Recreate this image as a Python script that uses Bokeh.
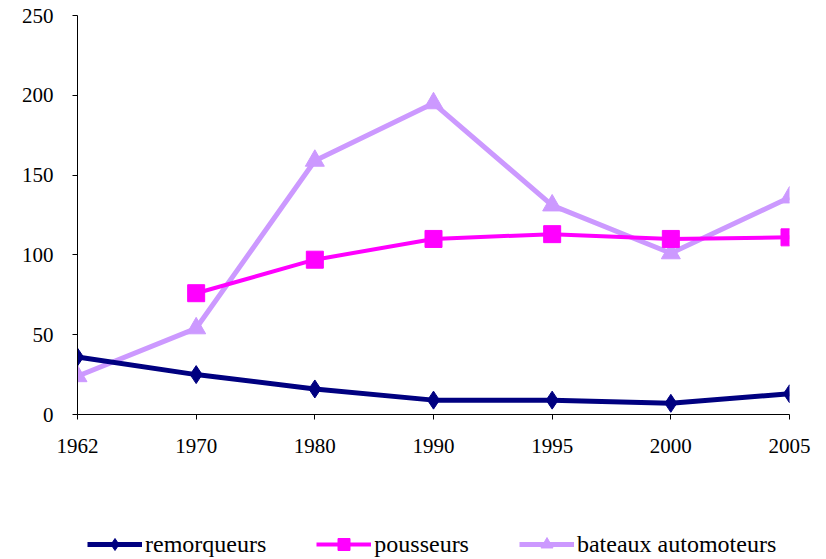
import numpy as np
from bokeh.plotting import figure
from bokeh.layouts import column
from bokeh.models import Range1d, FixedTicker, Legend, LegendItem
from bokeh.embed import file_html
from bokeh.resources import INLINE

years = ["1962", "1970", "1980", "1990", "1995", "2000", "2005"]
remorqueurs = [36, 25, 16, 9, 9, 7, 13]
pousseurs = [None, 76, 97, 110, 113, 110, 111]
bateaux_automoteurs = [24, 54, 159, 195, 131, 101, 136]
y_ticks = [0, 50, 100, 150, 200, 250]
series_names = ["remorqueurs", "pousseurs", "bateaux automoteurs"]

FONT = "Liberation Serif"

x = list(range(len(years)))
def arr(vals):
    return np.array([np.nan if v is None else v for v in vals], dtype=float)

p = figure(width=826, height=520, output_backend="svg", toolbar_location=None,
           x_range=Range1d(0, len(years) - 1), y_range=Range1d(0, 250),
           min_border_left=77, min_border_right=37, min_border_top=15,
           min_border_bottom=106)
p.outline_line_color = None
p.xgrid.visible = False
p.ygrid.visible = False
p.background_fill_color = "white"

for ax in (p.xaxis[0], p.yaxis[0]):
    ax.axis_line_color = "black"
    ax.axis_line_width = 1
    ax.major_tick_line_color = "black"
    ax.major_tick_in = 0
    ax.major_tick_out = 5
    ax.minor_tick_line_color = None
    ax.major_label_text_font = FONT
    ax.major_label_text_font_size = "21px"
    ax.major_label_text_color = "black"
    ax.major_label_standoff = 19

p.xaxis.ticker = FixedTicker(ticks=x)
p.xaxis.major_label_overrides = {i: y for i, y in enumerate(years)}
p.yaxis.ticker = FixedTicker(ticks=y_ticks)

c1, c2, c3 = "#000080", "#FF00FF", "#CC99FF"
styles = [
    dict(color=c1, lw=5, marker="diamond", size=18),
    dict(color=c2, lw=4, marker="square", size=17),
    dict(color=c3, lw=5, marker="triangle", size=19),
]
series = [remorqueurs, pousseurs, bateaux_automoteurs]

for vals, st in reversed(list(zip(series, styles))):
    p.line(x, arr(vals), line_color=st["color"], line_width=st["lw"])
    p.scatter(x, arr(vals), marker=st["marker"], size=st["size"],
              fill_color=st["color"], line_color=st["color"])

# legend strip below the chart (its ranges keep the glyphs out of view;
# only the legend entries are seen)
lg = figure(width=826, height=39, output_backend="svg", toolbar_location=None,
            x_axis_type=None, y_axis_type=None,
            x_range=Range1d(-20, -19), y_range=Range1d(-20, -19),
            min_border_left=77, min_border_right=37, min_border_top=0,
            min_border_bottom=0)
lg.outline_line_color = None
lg.xgrid.visible = False
lg.ygrid.visible = False

items = []
for name, vals, st in zip(series_names, series, styles):
    rl = lg.line(x, arr(vals), line_color=st["color"], line_width=st["lw"])
    rm = lg.scatter(x, arr(vals), marker=st["marker"], size=st["size"],
                    fill_color=st["color"], line_color=st["color"])
    items.append(LegendItem(label=name, renderers=[rl, rm]))

legend = Legend(items=items, location=(10, 0), orientation="horizontal")
legend.glyph_width = 55
legend.glyph_height = 30
legend.label_standoff = 3
legend.spacing = 50
legend.padding = 0
legend.margin = 0
legend.border_line_color = None
legend.background_fill_alpha = 0
legend.label_text_font = FONT
legend.label_text_font_size = "24px"
legend.label_text_color = "black"
lg.add_layout(legend, "center")

layout = column(p, lg, spacing=0)
open("out.html", "w").write(file_html(layout, INLINE))
